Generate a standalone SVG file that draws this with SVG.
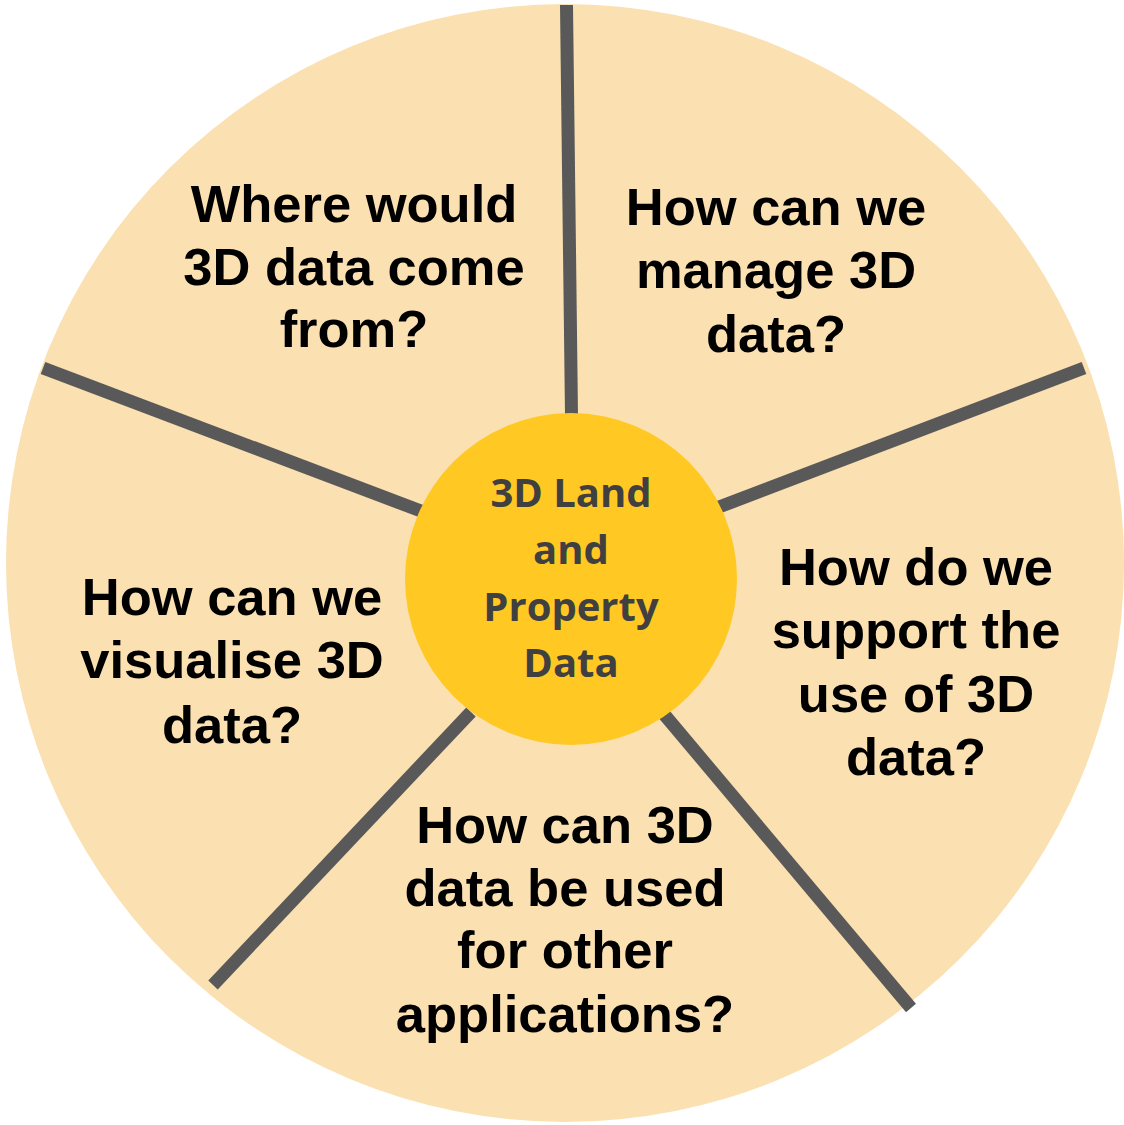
<svg xmlns="http://www.w3.org/2000/svg" width="1124" height="1125" viewBox="0 0 1124 1125">
<style>
.spoke{stroke:#595959;stroke-width:13;stroke-linecap:butt;fill:none}
.q{font-family:"Liberation Sans",Arial,sans-serif;font-weight:bold;font-size:52.5px;fill:#000;text-anchor:middle}
.c{font-family:"Open Sans","Noto Sans",sans-serif;font-weight:bold;font-size:40px;fill:#404040;text-anchor:middle}
</style>
<rect width="1124" height="1125" fill="#ffffff"/>
<g id="wheel">
<circle cx="565" cy="563" r="559" fill="#FBE0B1"/>
</g>
<g id="connectors">
<line class="spoke" x1="566.5" y1="5" x2="571.5" y2="415"/>
<line class="spoke" x1="43" y1="368" x2="421" y2="511"/>
<line class="spoke" x1="1084" y1="368" x2="719" y2="507"/>
<line class="spoke" x1="663" y1="713" x2="911" y2="1008"/>
<line class="spoke" x1="471" y1="712" x2="213" y2="985"/>
</g>
<g id="center">
<circle cx="571" cy="579" r="166" fill="#FFC822"/>
<text class="c"><tspan x="571" y="507">3D Land</tspan><tspan x="571" y="564">and</tspan><tspan x="571" y="621">Property</tspan><tspan x="571" y="677">Data</tspan></text>
</g>
<g id="q-source">
<text class="q"><tspan x="354" y="222">Where would</tspan><tspan x="354" y="285">3D data come</tspan><tspan x="354" y="347">from?</tspan></text>
</g>
<g id="q-manage">
<text class="q"><tspan x="776" y="225">How can we</tspan><tspan x="776" y="288">manage 3D</tspan><tspan x="776" y="352">data?</tspan></text>
</g>
<g id="q-support">
<text class="q"><tspan x="916" y="585">How do we</tspan><tspan x="916" y="648">support the</tspan><tspan x="916" y="712">use of 3D</tspan><tspan x="916" y="775">data?</tspan></text>
</g>
<g id="q-apps">
<text class="q"><tspan x="565" y="843">How can 3D</tspan><tspan x="565" y="906">data be used</tspan><tspan x="565" y="968">for other</tspan><tspan x="565" y="1032">applications?</tspan></text>
</g>
<g id="q-visualise">
<text class="q"><tspan x="232" y="615">How can we</tspan><tspan x="232" y="678">visualise 3D</tspan><tspan x="232" y="743">data?</tspan></text>
</g>
</svg>
